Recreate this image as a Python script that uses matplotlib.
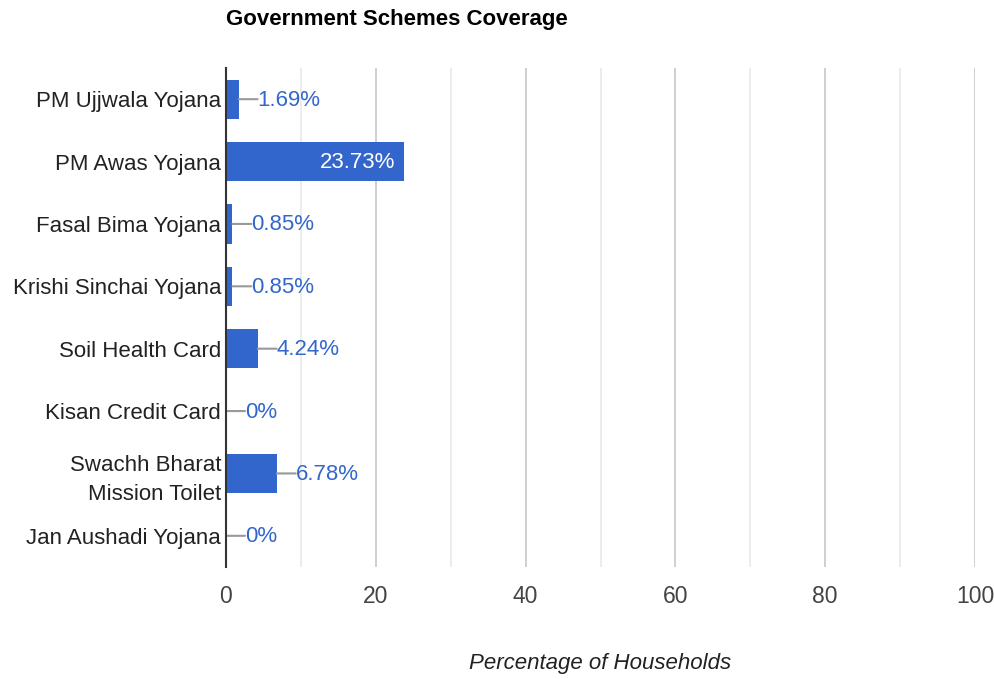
import matplotlib
matplotlib.use("Agg")
import matplotlib.pyplot as plt
from matplotlib.ticker import MultipleLocator

plt.rcParams['font.family'] = ['Liberation Sans', 'DejaVu Sans']

categories = ["PM Ujjwala Yojana", "PM Awas Yojana", "Fasal Bima Yojana",
              "Krishi Sinchai Yojana", "Soil Health Card", "Kisan Credit Card",
              "Swachh Bharat\nMission Toilet", "Jan Aushadi Yojana"]
values = [1.69, 23.73, 0.85, 0.85, 4.24, 0, 6.78, 0]
labels = ["1.69%", "23.73%", "0.85%", "0.85%", "4.24%", "0%", "6.78%", "0%"]
xticks = [0, 20, 40, 60, 80, 100]

BLUE = "#3366cc"
W, H = 994, 679
fig = plt.figure(figsize=(W/100, H/100), dpi=100)
ax = fig.add_axes([226/W, 1-567/H, (975-226)/W, (567-68)/H])

ypos = list(range(len(categories)))
ax.barh(ypos, values, height=0.63, color=BLUE, zorder=3)
ax.set_ylim(len(categories)-0.5, -0.5)
ax.set_xlim(0, 100)

ax.set_xticks(xticks)
ax.set_xticklabels([str(t) for t in xticks], fontsize=16.5, color="#444444")
ax.xaxis.set_minor_locator(MultipleLocator(10))
ax.grid(axis='x', which='major', color="#cccccc", linewidth=1.3, zorder=0)
ax.grid(axis='x', which='minor', color="#ebebeb", linewidth=1.3, zorder=0)
ax.tick_params(axis='x', which='both', length=0, pad=13)
ax.set_yticks(ypos)
ax.set_yticklabels(categories, fontsize=16, color="#222222", ha='right',
                   linespacing=1.5)
ax.tick_params(axis='y', length=0, pad=3.5)

for s in ['top', 'right', 'bottom']:
    ax.spines[s].set_visible(False)
ax.spines['left'].set_color("#333333")
ax.spines['left'].set_linewidth(1.5)
ax.spines['left'].set_zorder(5)

for y, v, lab in zip(ypos, values, labels):
    if v > 15:
        ax.annotate(lab, xy=(v, y), xytext=(-8, -1), textcoords='offset pixels',
                    ha='right', va='center', color='white', fontsize=16, zorder=6)
    else:
        ax.annotate("", xy=(v, y), xytext=(19, 0), textcoords='offset pixels',
                    arrowprops=dict(arrowstyle='-', color="#999999", lw=1.5,
                                    shrinkA=0, shrinkB=0), zorder=4)
        ax.annotate(lab, xy=(v, y), xytext=(19, -1), textcoords='offset pixels',
                    ha='left', va='center', color=BLUE, fontsize=16, zorder=6)

fig.text(226/W, 1-20/H, "Government Schemes Coverage", fontsize=16,
         fontweight='bold', color="#000000", ha='left', va='center')
fig.text(600/W, 1-663/H, "Percentage of Households", fontsize=16,
         style='italic', color="#222222", ha='center', va='center')

fig.savefig("out.png", dpi=100)
